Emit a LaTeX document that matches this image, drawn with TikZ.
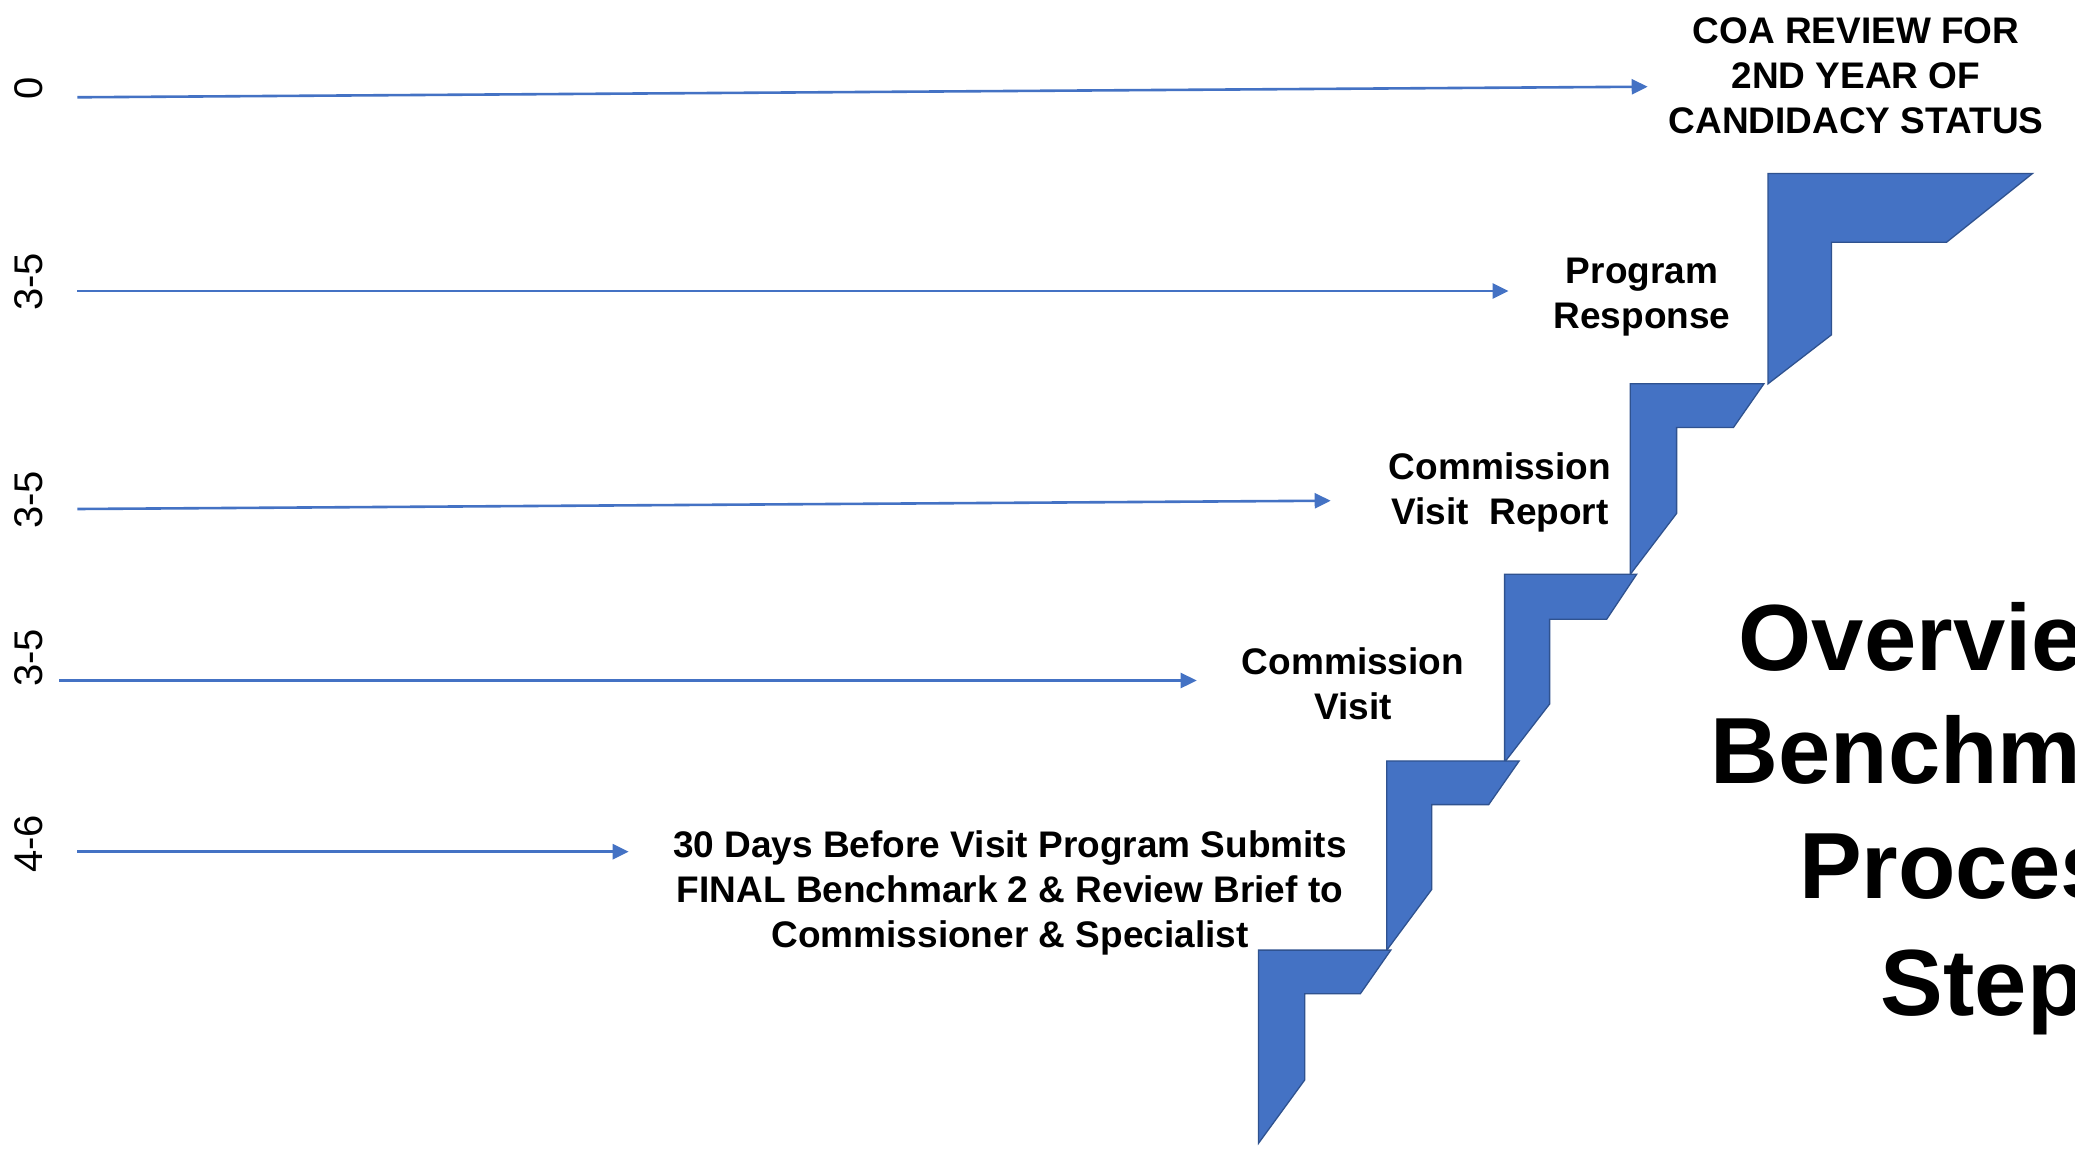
\documentclass[tikz,border=0pt]{standalone}
\usepackage{fontspec}
\setmainfont{Liberation Sans}
\usetikzlibrary{arrows.meta}
\definecolor{stepblue}{HTML}{4472C4}
\definecolor{stepedge}{HTML}{2F528F}
\definecolor{arrowblue}{HTML}{4472C4}
\begin{document}
\begin{tikzpicture}[x=1pt,y=-1pt,
  conn/.style={draw=arrowblue, line width=2.6pt, -{Triangle[length=16pt,width=15pt]}},
  stepshape/.style={fill=stepblue, draw=stepedge, line width=1.3pt, line join=miter},
  lbl/.style={font=\bfseries\fontsize{37}{45}\selectfont, align=center, inner sep=0pt},
  tick/.style={font=\fontsize{40}{48}\selectfont, rotate=90, inner sep=0pt},
  ttl/.style={font=\bfseries\fontsize{94}{115}\selectfont, anchor=base west, inner sep=0pt}]
\useasboundingbox (0,0) rectangle (2075,1153);
\fill[white] (0,0) rectangle (2075,1153);

% stair steps
\draw[stepshape] (1768,173.4) -- (2032.6,173.4) -- (1946.6,242.2) -- (1831.5,242.2) -- (1831.5,334.8) -- (1768,383.8) -- cycle;
\draw[stepshape] (1630.3,383.8) -- (1763.9,383.8) -- (1733.5,427.4) -- (1676.6,427.4) -- (1676.6,513.4) -- (1630.3,574.3) -- cycle;
\draw[stepshape] (1504.6,574.3) -- (1636.6,574.3) -- (1606.6,619.3) -- (1549.6,619.3) -- (1549.6,704) -- (1504.6,762.2) -- cycle;
\draw[stepshape] (1386.8,760.9) -- (1519.2,760.9) -- (1488.7,804.6) -- (1431.8,804.6) -- (1431.8,889.3) -- (1386.8,950.1) -- cycle;
\draw[stepshape] (1258.5,950.1) -- (1390.8,950.1) -- (1360.3,993.8) -- (1304.8,993.8) -- (1304.8,1079.8) -- (1258.5,1143.3) -- cycle;

% time labels
\node[tick] (t0) at (29,88.7) {0};
\node[tick] (t1) at (29,282) {3-5};
\node[tick] (t2) at (29,500) {3-5};
\node[tick] (t3) at (29,658) {3-5};
\node[tick] (t4) at (29,844) {4-6};

% step labels
\node[lbl] (coa) at (1856,76) {COA REVIEW FOR\\2ND YEAR OF\\CANDIDACY STATUS};
\node[lbl] (prog) at (1642,297.5) {Program\\Response};
\node[lbl] (cvr) at (1500,492) {Commission\\Visit\ \ Report};
\node[lbl] (cv) at (1353,684) {Commission\\Visit};
\node[lbl] (sub) at (1010,893) {30 Days Before Visit Program Submits\\FINAL Benchmark 2 \& Review Brief to\\Commissioner \& Specialist};

% arrows
\coordinate (a1s) at (77.3,97.3);
\coordinate (a1e) at (1647.7,86.7);
\coordinate (a2s) at (77.3,291);
\coordinate (a2e) at (1508.6,291);
\coordinate (a3s) at (77.3,509);
\coordinate (a3e) at (1330.7,500.7);
\coordinate (a4s) at (59.3,680.5);
\coordinate (a4e) at (1196.7,680.5);
\coordinate (a5s) at (77.3,851.7);
\coordinate (a5e) at (628.7,851.7);
\draw[conn] (a1s) -- (a1e);
\draw[conn] (a2s) -- (a2e);
\draw[conn] (a3s) -- (a3e);
\draw[conn] (a4s) -- (a4e);
\draw[conn] (a5s) -- (a5e);

% title (cut off at the right edge, as in the reference)
\node[ttl] (ttl1) at (1738.6,670) {Overvie};
\node[ttl] (ttl2) at (1710.4,783) {Benchm};
\node[ttl] (ttl3) at (1799,898) {Proces};
\node[ttl] (ttl4) at (1880.6,1015) {Step};
\end{tikzpicture}
\end{document}
